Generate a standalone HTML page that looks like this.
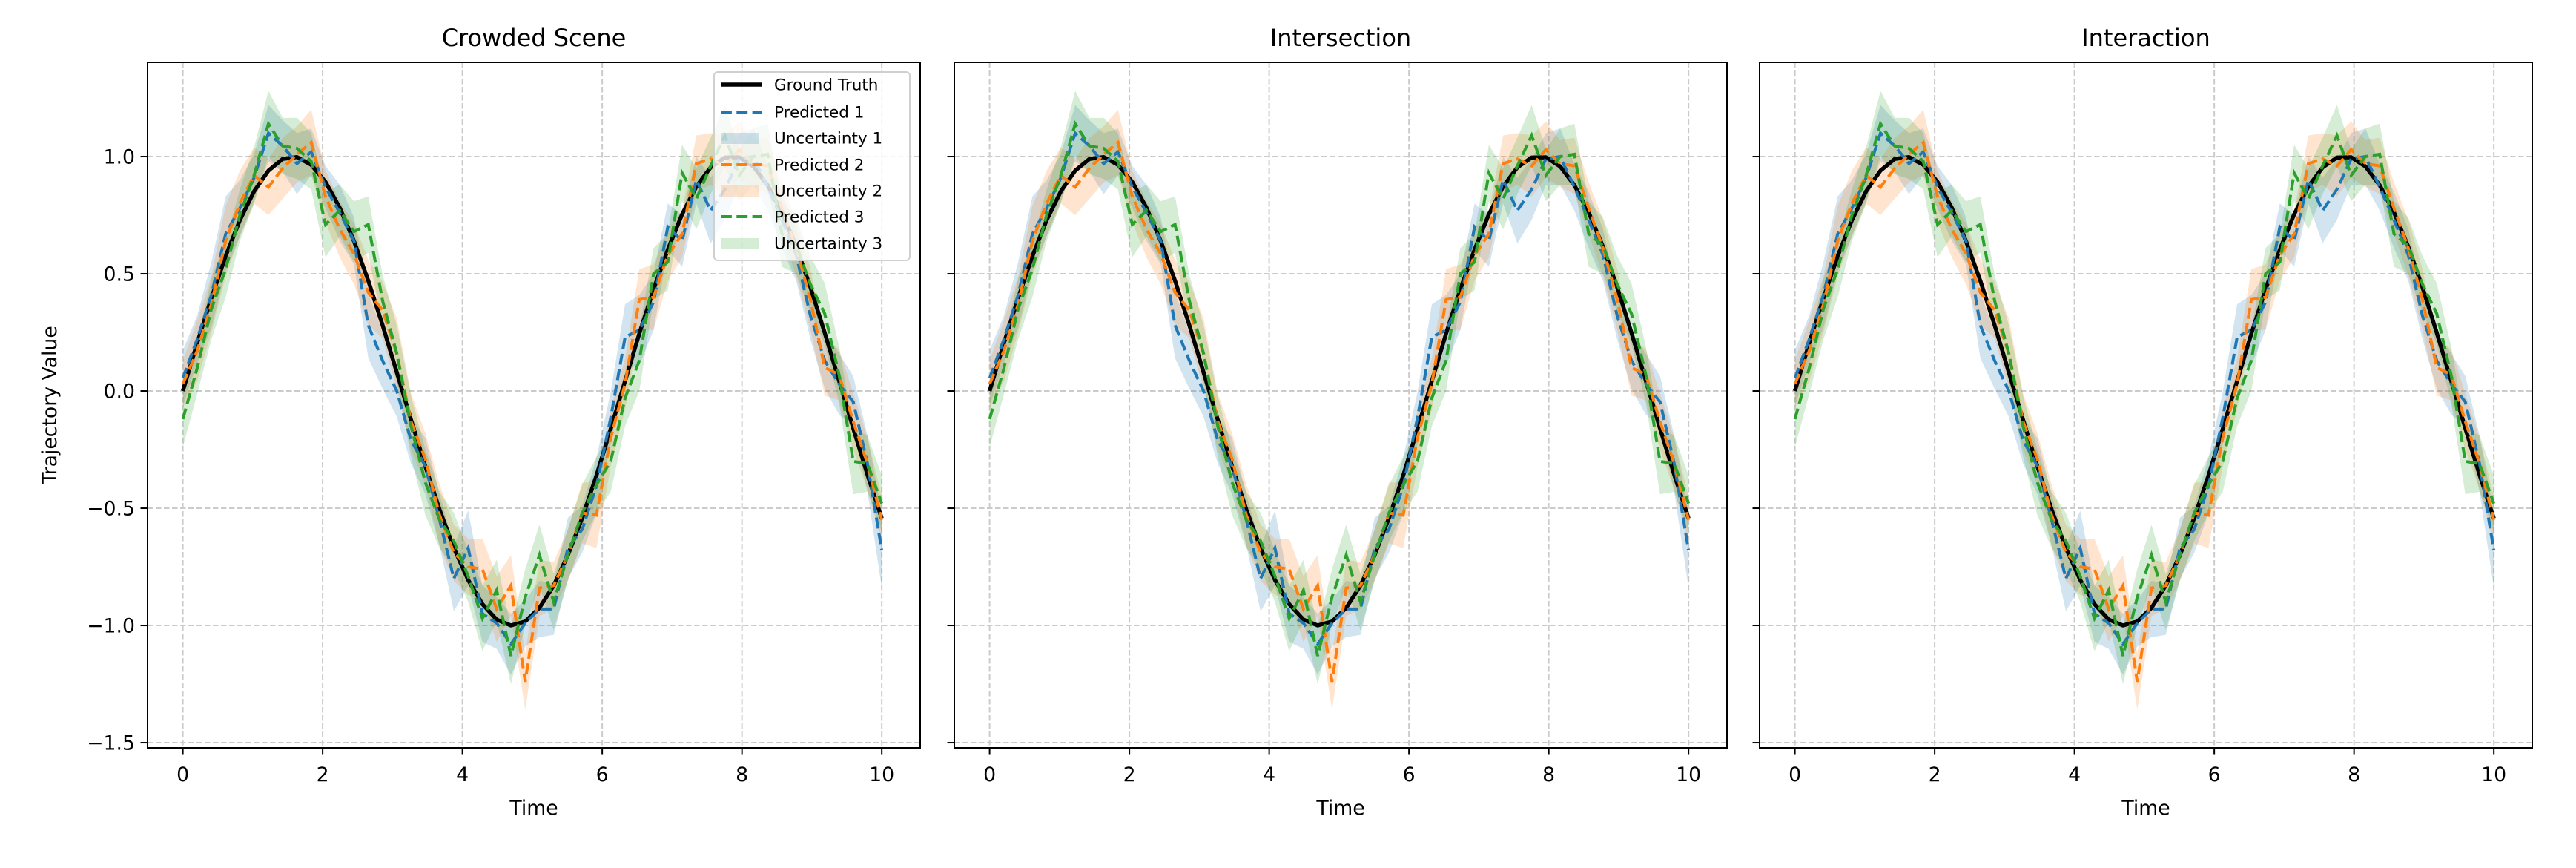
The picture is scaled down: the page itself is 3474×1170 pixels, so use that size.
<!DOCTYPE html>
<html><head><meta charset="utf-8"><style>
html,body{margin:0;padding:0;background:#fff;}
svg{display:block;font-family:"DejaVu Sans","Liberation Sans",sans-serif;}
</style></head><body>
<svg id="fig" width="3474" height="1170" viewBox="0 0 3474 1170" xmlns="http://www.w3.org/2000/svg"></svg>
<script>
const times=[0,0.204,0.408,0.612,0.816,1.020,1.224,1.429,1.633,1.837,2.041,2.245,2.449,2.653,2.857,3.061,3.265,3.469,3.673,3.878,4.082,4.286,4.490,4.694,4.898,5.102,5.306,5.510,5.714,5.918,6.122,6.327,6.531,6.735,6.939,7.143,7.347,7.551,7.755,7.959,8.163,8.367,8.571,8.776,8.980,9.184,9.388,9.592,9.796,10];
const groundTruth=[0,0.203,0.397,0.575,0.729,0.852,0.940,0.990,0.998,0.965,0.892,0.781,0.639,0.470,0.281,0.080,-0.123,-0.321,-0.506,-0.670,-0.806,-0.909,-0.975,-1.0,-0.983,-0.925,-0.830,-0.700,-0.541,-0.360,-0.162,0.043,0.245,0.434,0.603,0.754,0.872,0.954,0.996,0.997,0.958,0.878,0.762,0.615,0.442,0.249,0.045,-0.159,-0.357,-0.544];
const pred1=[0.054,0.22,0.41,0.67,0.78,0.91,1.10,1.045,0.97,1.02,0.87,0.76,0.64,0.28,0.13,0.0,-0.21,-0.32,-0.55,-0.80,-0.67,-0.95,-0.99,-1.08,-0.99,-0.93,-0.93,-0.67,-0.59,-0.405,-0.115,0.23,0.26,0.38,0.70,0.64,0.90,0.77,0.86,0.99,1.0,0.87,0.73,0.58,0.32,0.13,0.03,-0.046,-0.31,-0.68];
const pred2=[0.03,0.17,0.37,0.64,0.80,0.92,0.87,0.95,1.01,1.06,0.83,0.69,0.585,0.42,0.345,0.16,-0.13,-0.29,-0.53,-0.69,-0.75,-0.76,-0.93,-0.83,-1.24,-0.84,-0.83,-0.70,-0.52,-0.53,-0.20,0.03,0.39,0.40,0.58,0.67,0.97,0.99,0.96,1.03,0.97,0.96,0.78,0.61,0.39,0.10,0.07,-0.13,-0.31,-0.55];
const pred3=[-0.12,0.096,0.35,0.52,0.75,0.92,1.14,1.045,1.035,0.98,0.71,0.77,0.68,0.71,0.386,0.16,-0.15,-0.39,-0.55,-0.64,-0.79,-0.97,-0.85,-1.13,-0.88,-0.70,-0.90,-0.70,-0.52,-0.40,-0.30,-0.03,0.13,0.50,0.55,0.93,0.82,0.96,1.09,0.92,1.0,1.01,0.67,0.62,0.455,0.33,0.07,-0.30,-0.31,-0.48];
const unc1=[0.12,0.10,0.14,0.16,0.12,0.10,0.12,0.11,0.13,0.10,0.09,0.12,0.10,0.14,0.12,0.11,0.10,0.12,0.11,0.14,0.16,0.12,0.11,0.13,0.10,0.12,0.11,0.13,0.10,0.12,0.11,0.14,0.15,0.12,0.10,0.11,0.10,0.14,0.13,0.11,0.12,0.10,0.12,0.11,0.10,0.12,0.13,0.11,0.12,0.16];
const unc2=[0.10,0.13,0.12,0.15,0.14,0.12,0.12,0.13,0.12,0.14,0.11,0.12,0.13,0.14,0.12,0.15,0.12,0.11,0.13,0.12,0.12,0.13,0.14,0.13,0.12,0.12,0.10,0.11,0.13,0.14,0.12,0.11,0.13,0.14,0.11,0.10,0.12,0.11,0.13,0.12,0.10,0.12,0.11,0.12,0.13,0.12,0.11,0.12,0.11,0.10];
const unc3=[0.12,0.11,0.13,0.12,0.11,0.12,0.14,0.12,0.13,0.12,0.14,0.11,0.13,0.12,0.11,0.12,0.13,0.14,0.12,0.12,0.11,0.14,0.13,0.12,0.12,0.13,0.12,0.11,0.12,0.12,0.13,0.12,0.13,0.11,0.12,0.12,0.13,0.12,0.13,0.11,0.12,0.13,0.14,0.12,0.12,0.13,0.12,0.14,0.12,0.12];
const panelTitles=["Crowded Scene","Intersection","Interaction"];
const xTicks=[0,2,4,6,8,10];
const yTicks=[-1.5,-1.0,-0.5,0.0,0.5,1.0];
const yTickLabels=["\u22121.5","\u22121.0","\u22120.5","0.0","0.5","1.0"];
const seriesColors=["#1f77b4","#ff7f0e","#2ca02c"];

const NS="http://www.w3.org/2000/svg";
const svg=document.getElementById('fig');
function mk(tag,attrs,parent){const e=document.createElementNS(NS,tag);for(const k in attrs)e.setAttribute(k,attrs[k]);(parent||svg).appendChild(e);return e;}
const PW=1042, PT=84, PB=1008, X0=-0.505, X1=10.55, Y0=-1.522, Y1=1.402;
const panelLefts=[199,1287,2373];
const preds=[pred1,pred2,pred3], uncs=[unc1,unc2,unc3];

panelLefts.forEach((L,pi)=>{
  const g=mk('g',{});
  
  
  const sx=t=>L+(t-X0)/(X1-X0)*PW;
  const sy=v=>PB-(v-Y0)/(Y1-Y0)*(PB-PT);
  const cid='clip'+pi;
  const cp=mk('clipPath',{id:cid},g);mk('rect',{x:L,y:PT,width:PW,height:PB-PT},cp);
  // grid
  xTicks.forEach(t=>{const l=mk('line',{x1:sx(t),x2:sx(t),y1:PT,y2:PB,stroke:'#cbcbcb','stroke-width':2,'stroke-dasharray':'7.5,3.5'},g);
    });
  yTicks.forEach(v=>{const l=mk('line',{x1:L,x2:L+PW,y1:sy(v),y2:sy(v),stroke:'#cbcbcb','stroke-width':2,'stroke-dasharray':'7.5,3.5'},g);
    });
  const plot=mk('g',{'clip-path':'url(#'+cid+')'},g);
  // bands
  preds.forEach((p,si)=>{
    let d='M'+times.map((t,i)=>sx(t).toFixed(1)+','+sy(p[i]+uncs[si][i]).toFixed(1)).join('L');
    for(let i=times.length-1;i>=0;i--)d+='L'+sx(times[i]).toFixed(1)+','+sy(p[i]-uncs[si][i]).toFixed(1);
    const b=mk('path',{d:d+'Z',fill:seriesColors[si],'fill-opacity':0.2,stroke:'none'},plot);
    
    
  });
  const gt=mk('polyline',{points:times.map((t,i)=>sx(t).toFixed(1)+','+sy(groundTruth[i]).toFixed(1)).join(' '),fill:'none',stroke:'#000','stroke-width':5.4,'stroke-linejoin':'round'},plot);
  
  
  preds.forEach((p,si)=>{
    const l=mk('polyline',{points:times.map((t,i)=>sx(t).toFixed(1)+','+sy(p[i]).toFixed(1)).join(' '),fill:'none',stroke:seriesColors[si],'stroke-width':4,'stroke-dasharray':'14.9,6.4'},plot);
    
    
  });
  // frame
  const fr=mk('rect',{x:L,y:PT,width:PW,height:PB-PT,fill:'none',stroke:'#000','stroke-width':2},g);
  
  // ticks
  xTicks.forEach(t=>{
    mk('line',{x1:sx(t),x2:sx(t),y1:PB,y2:PB+9.5,stroke:'#000','stroke-width':2},g);
    const tx=mk('text',{x:sx(t),y:1053,'font-size':26.7,'text-anchor':'middle',fill:'#000'},g);
    tx.textContent=t;
    
  });
  yTicks.forEach((v,k)=>{
    mk('line',{x1:L-9.5,x2:L,y1:sy(v),y2:sy(v),stroke:'#000','stroke-width':2},g);
    if(pi===0){const tx=mk('text',{x:L-17,y:sy(v)+9.5,'font-size':26.7,'text-anchor':'end',fill:'#000'},g);
      tx.textContent=yTickLabels[k];
      }
  });
  const ti=mk('text',{x:L+PW/2,y:62,'font-size':32,'text-anchor':'middle',fill:'#000'},g);
  ti.textContent=panelTitles[pi];
  
  const xl=mk('text',{x:L+PW/2,y:1098,'font-size':26.7,'text-anchor':'middle',fill:'#000'},g);
  xl.textContent='Time';
  
  if(pi===0){
    const yl=mk('text',{x:0,y:0,'font-size':26.7,'text-anchor':'middle',fill:'#000',transform:'translate(76,546) rotate(-90)'},g);
    yl.textContent='Trajectory Value';
    
    // legend
    const lg=mk('g',{},g);
    
    mk('rect',{x:963,y:97,width:264,height:254,rx:5,fill:'#fff','fill-opacity':0.8,stroke:'#d0d0d0','stroke-width':2},lg);
    const items=[['Ground Truth','gt'],['Predicted 1','p',0],['Uncertainty 1','u',0],['Predicted 2','p',1],['Uncertainty 2','u',1],['Predicted 3','p',2],['Uncertainty 3','u',2]];
    const rows=[114,151,186,222,257,292,328];
    items.forEach((it,k)=>{
      const y=rows[k];
      const e=mk('g',{},lg);
      
      if(it[1]==='gt')mk('line',{x1:972,x2:1027,y1:y,y2:y,stroke:'#000','stroke-width':5.4},e);
      else if(it[1]==='p')mk('line',{x1:972,x2:1027,y1:y,y2:y,stroke:seriesColors[it[2]],'stroke-width':4,'stroke-dasharray':'14.9,6.4'},e);
      else mk('rect',{x:972,y:y-7,width:51,height:15,fill:seriesColors[it[2]],'fill-opacity':0.2},e);
      const t=mk('text',{x:1044,y:y+7.5,'font-size':21.5,fill:'#000'},e);t.textContent=it[0];
    });
  }
});
</script>
</body></html>
